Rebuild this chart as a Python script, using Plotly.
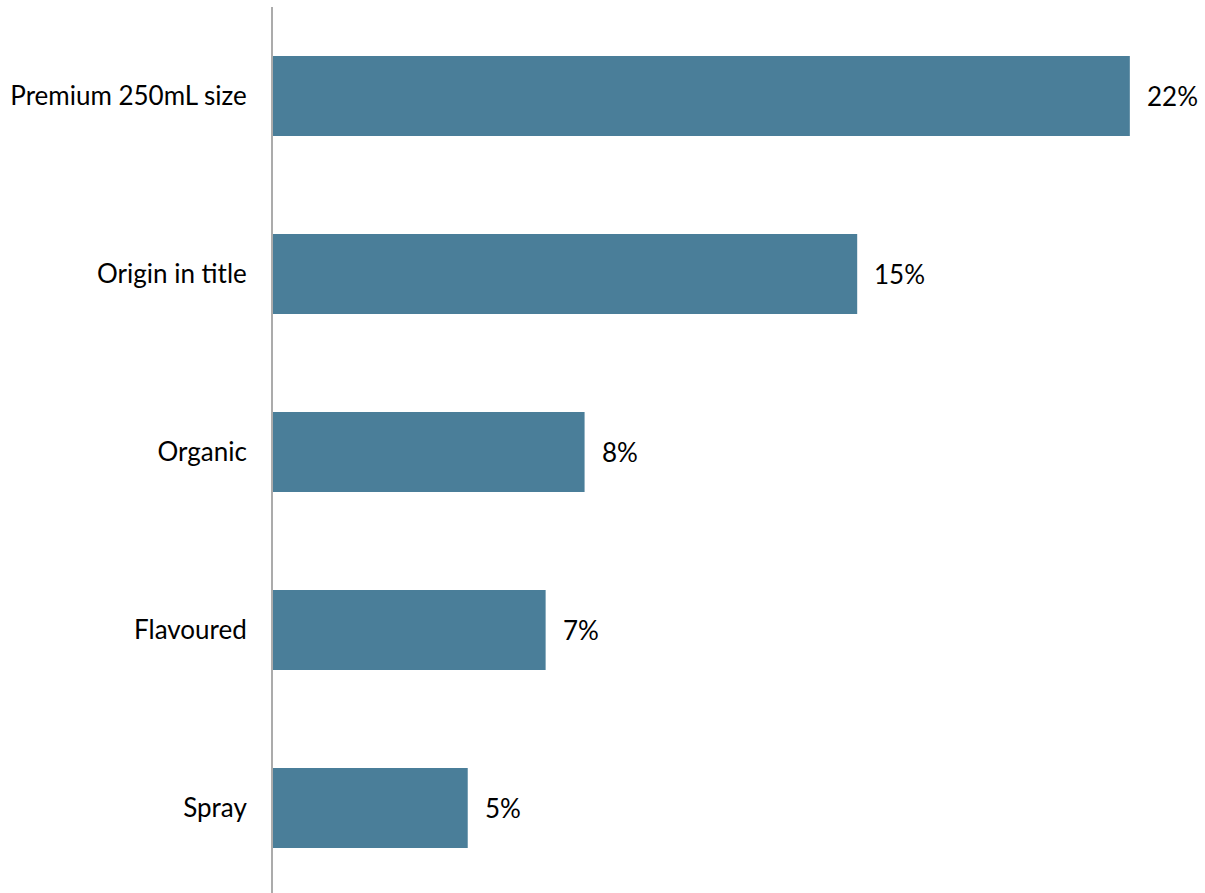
import plotly.graph_objects as go

# Share of products by attribute (%)
categories = ["Premium 250mL size", "Origin in title", "Organic", "Flavoured", "Spray"]
values = [22, 15, 8, 7, 5]
value_labels = ["22%", "15%", "8%", "7%", "5%"]

BAR_COLOR = "#4A7E99"
FONT = "Lato"
FONT_SIZE = 26

fig = go.Figure(
    go.Bar(
        x=values,
        y=categories,
        orientation="h",
        marker=dict(color=BAR_COLOR, line=dict(width=0)),
        width=0.45,
        hoverinfo="skip",
    )
)

for cat, val, lab in zip(categories, values, value_labels):
    fig.add_annotation(
        x=val, y=cat, text=lab, showarrow=False,
        xanchor="left", yanchor="middle", xshift=15,
        font=dict(family=FONT, size=FONT_SIZE, color="#000000"),
    )

fig.update_layout(
    width=1205, height=893,
    margin=dict(l=273, r=0, t=7, b=0),
    paper_bgcolor="white", plot_bgcolor="white",
    showlegend=False,
    font=dict(family=FONT, size=FONT_SIZE, color="#000000"),
    xaxis=dict(range=[0, 23.93], visible=False, showgrid=False, zeroline=False),
    yaxis=dict(
        type="category",
        range=[4.478, -0.5],
        showgrid=False, zeroline=False,
        showline=True, linecolor="#ABABAB", linewidth=2,
        ticks="outside", ticklen=19, tickcolor="rgba(0,0,0,0)",
        tickfont=dict(family=FONT, size=FONT_SIZE, color="#000000"),
    ),
)

fig.write_html("out.html")
